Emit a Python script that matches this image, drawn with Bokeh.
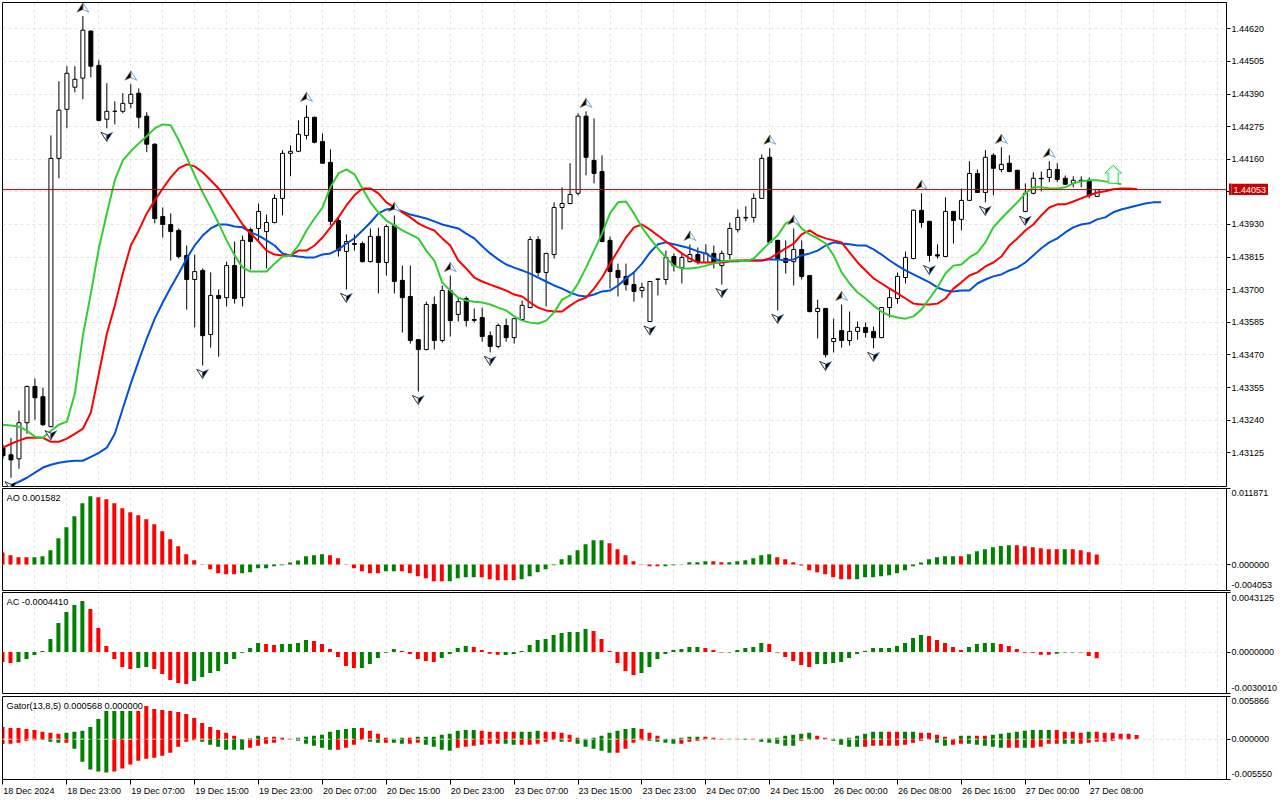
import numpy as np
from bokeh.plotting import figure
from bokeh.layouts import column
from bokeh.models import FixedTicker, Label, LinearAxis, Range1d, Span, CustomJSTickFormatter, NumeralTickFormatter
from bokeh.embed import file_html
from bokeh.resources import INLINE

opens = [1.43143,1.43118,1.43104,1.43231,1.43359,1.43323,1.43217,1.44163,1.44336,1.44414,
1.44446,1.44612,1.44491,1.44301,1.44329,1.44329,1.44357,1.44393,1.44312,1.44213,
1.43958,1.43930,1.43909,1.43821,1.43736,1.43768,1.43542,1.43680,1.43672,1.43785,
1.43672,1.43912,1.43916,1.43905,1.43937,1.44022,1.44181,1.44188,1.44244,1.44308,
1.44223,1.44149,1.43944,1.43835,1.43863,1.43863,1.43799,1.43888,1.43796,1.43927,
1.43733,1.43676,1.43524,1.43489,1.43648,1.43521,1.43697,1.43613,1.43669,1.43595,
1.43602,1.43538,1.43500,1.43574,1.43531,1.43595,1.43637,1.43877,1.43761,1.43824,
1.43990,1.44004,1.44040,1.44312,1.44156,1.44117,1.43874,1.43768,1.43747,1.43718,
1.43697,1.43588,1.43736,1.43736,1.43817,1.43778,1.43799,1.43824,1.43796,1.43828,
1.43785,1.43824,1.43912,1.43955,1.43955,1.44022,1.44167,1.43874,1.43810,1.43799,
1.43842,1.43750,1.43623,1.43634,1.43517,1.43556,1.43521,1.43553,1.43567,1.43553,
1.43531,1.43637,1.43669,1.43743,1.43810,1.43980,1.43941,1.43823,1.43817,1.43976,
1.43948,1.44015,1.44110,1.44043,1.44174,1.44124,1.44146,1.44121,1.43976,1.44040,
1.44093,1.44096,1.44124,1.44093,1.44075,1.44086,1.44086,1.44029]
closes = [1.43115,1.43100,1.43231,1.43359,1.43319,1.43224,1.44163,1.44333,1.44463,1.44442,
1.44615,1.44488,1.44297,1.44329,1.44329,1.44357,1.44389,1.44308,1.44213,1.43951,
1.43930,1.43905,1.43817,1.43736,1.43764,1.43538,1.43680,1.43669,1.43785,1.43669,
1.43874,1.43870,1.43976,1.43937,1.44022,1.44181,1.44188,1.44248,1.44308,1.44220,
1.44146,1.43941,1.43838,1.43870,1.43860,1.43799,1.43888,1.43796,1.43923,1.43729,
1.43672,1.43521,1.43489,1.43648,1.43521,1.43697,1.43591,1.43658,1.43591,1.43592,
1.43535,1.43500,1.43574,1.43531,1.43598,1.43645,1.43877,1.43761,1.43828,1.43990,
1.44004,1.44036,1.44312,1.44167,1.44110,1.43870,1.43764,1.43743,1.43718,1.43694,
1.43708,1.43729,1.43738,1.43814,1.43785,1.43814,1.43824,1.43799,1.43828,1.43796,
1.43828,1.43916,1.43955,1.43953,1.44022,1.44163,1.43867,1.43810,1.43796,1.43842,
1.43747,1.43623,1.43634,1.43471,1.43528,1.43521,1.43553,1.43567,1.43549,1.43531,
1.43637,1.43672,1.43747,1.43814,1.43980,1.43937,1.43821,1.43819,1.43976,1.43944,
1.44015,1.44110,1.44043,1.44167,1.44128,1.44142,1.44117,1.44054,1.44040,1.44093,
1.44091,1.44124,1.44089,1.44072,1.44086,1.44082,1.44033,1.44053]
highs = [1.43154,1.43178,1.43274,1.43362,1.43387,1.43355,1.44244,1.44435,1.44488,1.44488,
1.44665,1.44615,1.44509,1.44428,1.44364,1.44393,1.44425,1.44410,1.44326,1.44216,
1.43990,1.43969,1.43916,1.43856,1.43824,1.43775,1.43761,1.43701,1.43799,1.43870,
1.43891,1.43919,1.44004,1.43965,1.44036,1.44192,1.44209,1.44297,1.44350,1.44310,
1.44251,1.44195,1.43955,1.43895,1.43895,1.43870,1.43916,1.43919,1.43930,1.43962,
1.43785,1.43785,1.43526,1.43658,1.43676,1.43715,1.43750,1.43672,1.43676,1.43634,
1.43637,1.43553,1.43581,1.43598,1.43600,1.43662,1.43888,1.43888,1.43830,1.44008,
1.44061,1.44146,1.44322,1.44329,1.44304,1.44174,1.43888,1.43792,1.43792,1.43761,
1.43725,1.43731,1.43740,1.43838,1.43828,1.43828,1.43860,1.43849,1.43860,1.43856,
1.43838,1.43937,1.43983,1.43994,1.44040,1.44177,1.44199,1.43876,1.43874,1.43916,
1.43874,1.43752,1.43665,1.43636,1.43598,1.43648,1.43623,1.43588,1.43584,1.43570,
1.43639,1.43704,1.43761,1.43835,1.43983,1.44040,1.43943,1.43860,1.44026,1.43978,
1.44057,1.44153,1.44124,1.44192,1.44181,1.44202,1.44174,1.44123,1.44075,1.44114,
1.44117,1.44153,1.44146,1.44103,1.44100,1.44100,1.44096,1.44054]
lows = [1.43104,1.43037,1.43069,1.43192,1.43242,1.43220,1.43217,1.44093,1.44269,1.44396,
1.44371,1.44449,1.44294,1.44269,1.44283,1.44322,1.44340,1.44269,1.44185,1.43934,
1.43884,1.43803,1.43810,1.43630,1.43567,1.43433,1.43496,1.43464,1.43641,1.43651,
1.43641,1.43771,1.43870,1.43775,1.43934,1.43962,1.44100,1.44185,1.44230,1.44216,
1.44146,1.43927,1.43817,1.43701,1.43838,1.43796,1.43796,1.43687,1.43750,1.43687,
1.43549,1.43510,1.43341,1.43486,1.43489,1.43514,1.43535,1.43588,1.43570,1.43584,
1.43517,1.43479,1.43493,1.43517,1.43510,1.43593,1.43635,1.43747,1.43641,1.43810,
1.43912,1.44001,1.44033,1.44103,1.44075,1.43867,1.43704,1.43676,1.43697,1.43658,
1.43672,1.43586,1.43680,1.43718,1.43764,1.43722,1.43796,1.43789,1.43794,1.43775,
1.43718,1.43807,1.43902,1.43941,1.43937,1.44020,1.43865,1.43627,1.43757,1.43715,
1.43736,1.43620,1.43528,1.43461,1.43479,1.43496,1.43503,1.43524,1.43531,1.43493,
1.43529,1.43602,1.43651,1.43722,1.43807,1.43919,1.43799,1.43810,1.43815,1.43863,
1.43909,1.44013,1.44041,1.44008,1.44033,1.44114,1.44114,1.44052,1.43973,1.44036,
1.44047,1.44079,1.44079,1.44070,1.44061,1.44061,1.44022,1.44028]

jaw = [1.43009,1.43023,1.43037,1.43055,1.43073,1.43083,1.43090,1.43094,1.43097,1.43097,
1.43111,1.43125,1.43143,1.43192,1.43281,1.43369,1.43450,1.43528,1.43598,1.43655,
1.43708,1.43757,1.43810,1.43856,1.43891,1.43916,1.43930,1.43930,1.43923,1.43920,
1.43902,1.43891,1.43874,1.43856,1.43828,1.43821,1.43817,1.43814,1.43814,1.43824,
1.43828,1.43842,1.43863,1.43881,1.43909,1.43937,1.43969,1.43983,1.43987,1.43976,
1.43965,1.43958,1.43951,1.43941,1.43930,1.43923,1.43916,1.43898,1.43881,1.43853,
1.43828,1.43807,1.43789,1.43778,1.43768,1.43757,1.43743,1.43729,1.43715,1.43704,
1.43690,1.43680,1.43676,1.43683,1.43694,1.43697,1.43715,1.43740,1.43761,1.43792,
1.43831,1.43860,1.43867,1.43860,1.43853,1.43846,1.43835,1.43828,1.43810,1.43800,
1.43800,1.43800,1.43803,1.43803,1.43803,1.43807,1.43807,1.43803,1.43807,1.43821,
1.43828,1.43838,1.43856,1.43867,1.43863,1.43860,1.43856,1.43856,1.43842,1.43824,
1.43803,1.43785,1.43768,1.43754,1.43740,1.43726,1.43708,1.43697,1.43694,1.43697,
1.43697,1.43722,1.43736,1.43747,1.43754,1.43768,1.43778,1.43796,1.43821,1.43846,
1.43867,1.43881,1.43902,1.43920,1.43930,1.43934,1.43948,1.43955,1.43973,1.43983,
1.43990,1.43997,1.44004,1.44008,1.44008]
teeth = [1.43143,1.43157,1.43168,1.43178,1.43178,1.43178,1.43164,1.43164,1.43175,1.43192,
1.43210,1.43267,1.43404,1.43545,1.43644,1.43757,1.43856,1.43909,1.43969,1.44015,
1.44057,1.44096,1.44128,1.44142,1.44135,1.44114,1.44086,1.44057,1.44015,1.43973,
1.43930,1.43898,1.43870,1.43838,1.43824,1.43821,1.43821,1.43838,1.43838,1.43856,
1.43884,1.43920,1.43955,1.43997,1.44033,1.44057,1.44057,1.44040,1.44008,1.43990,
1.43973,1.43955,1.43934,1.43920,1.43909,1.43881,1.43856,1.43803,1.43775,1.43743,
1.43729,1.43718,1.43708,1.43697,1.43683,1.43676,1.43655,1.43637,1.43627,1.43623,
1.43623,1.43644,1.43662,1.43672,1.43704,1.43743,1.43792,1.43838,1.43884,1.43920,
1.43930,1.43912,1.43891,1.43870,1.43849,1.43828,1.43810,1.43796,1.43796,1.43796,
1.43796,1.43800,1.43803,1.43803,1.43803,1.43803,1.43810,1.43828,1.43846,1.43863,
1.43895,1.43909,1.43891,1.43881,1.43874,1.43867,1.43831,1.43796,1.43768,1.43740,
1.43722,1.43704,1.43687,1.43669,1.43651,1.43648,1.43648,1.43651,1.43669,1.43704,
1.43726,1.43750,1.43761,1.43782,1.43796,1.43817,1.43856,1.43881,1.43909,1.43930,
1.43962,1.43990,1.44001,1.44001,1.44011,1.44022,1.44033,1.44043,1.44047,1.44054,
1.44057,1.44057,1.44054]
lips = [1.43224,1.43221,1.43217,1.43203,1.43182,1.43178,1.43203,1.43224,1.43235,1.43334,
1.43538,1.43687,1.43846,1.43969,1.44086,1.44156,1.44188,1.44216,1.44241,1.44269,
1.44283,1.44280,1.44227,1.44167,1.44103,1.44043,1.43990,1.43934,1.43874,1.43821,
1.43778,1.43764,1.43764,1.43764,1.43792,1.43817,1.43821,1.43856,1.43909,1.43951,
1.43990,1.44061,1.44110,1.44124,1.44107,1.44057,1.44008,1.43973,1.43944,1.43927,
1.43909,1.43895,1.43881,1.43838,1.43803,1.43725,1.43697,1.43672,1.43662,1.43658,
1.43655,1.43648,1.43637,1.43627,1.43606,1.43591,1.43584,1.43581,1.43591,1.43620,
1.43665,1.43680,1.43722,1.43778,1.43838,1.43898,1.43969,1.44008,1.44011,1.43969,
1.43920,1.43881,1.43846,1.43814,1.43785,1.43775,1.43775,1.43778,1.43785,1.43792,
1.43800,1.43803,1.43803,1.43800,1.43810,1.43838,1.43867,1.43891,1.43934,1.43948,
1.43916,1.43895,1.43881,1.43863,1.43821,1.43761,1.43722,1.43690,1.43669,1.43644,
1.43623,1.43609,1.43602,1.43598,1.43606,1.43630,1.43669,1.43708,1.43757,1.43785,
1.43789,1.43814,1.43831,1.43867,1.43920,1.43951,1.43980,1.44008,1.44040,1.44061,
1.44061,1.44057,1.44057,1.44061,1.44075,1.44082,1.44086,1.44086,1.44082,1.44079,
1.44072]

ao = [.001872,.001456,.001144,.001144,.001144,.0013,.002236,.004108,.005824,.00754,.009568,.01066,
.010504,.010192,.009568,.008788,.008164,.007696,.007072,.006292,.0052,.003952,.00286,.001612,.000676,.000052,
-.000728,-.001352,-.001508,-.001508,-.001352,-.001196,-.000572,-.000572,-.00026,-.000104,.000312,.000624,.0013,
.001456,.001612,.001456,.000988,-.000052,-.000572,-.00104,-.001352,-.001352,-.00104,-.00104,-.00104,-.001352,-.00182,-.002132,
-.0026,-.0026,-.0026,-.002132,-.001976,-.001976,-.001976,-.002288,-.002444,-.002444,-.002444,-.002288,-.00182,-.001196,-.000728,-.000104,
.000832,.001456,.002236,.003172,.003796,.003796,.003328,.002392,.001456,.00052,.000052,-.00026,-.00026,-.00026,-.000104,.000052,
.000364,.000364,.00052,.00052,.000364,.000364,.00052,.000676,.000988,.001456,.001612,.001144,.000832,.000364,-.000156,-.000884,
-.001196,-.001508,-.001976,-.002288,-.002288,-.002288,-.001976,-.001976,-.00182,-.001664,-.001352,-.000884,-.00026,.000312,.000832,.001144,
.0013,.0013,.0013,.001612,.00208,.002392,.002704,.002912,.003016,.003016,.00286,.002704,.002548,.002392,.002392,.002392,.002392,.002236,.001924,.001582]
ao_dir = "d"*4+"u"*8+"d"*18+"u"*11+"d"*7+"u"*2+"d"*6+"u"*4+"d"*5+"u"*11+"d"*7+"u"*6+"d"*2+"u"*6+"d"*10+"u"*13+"d"+"u"*6+"d"*6+"u"+"d"*4

ac = [-.000724,-.000797,-.000724,-.000507,-.000217,.000072,.000941,.0021,.002897,.003404,.003693,.003114,.001738,.000435,-.000507,-.001086,-.001231,-.001159,-.001086,-.001231,
-.001593,-.002028,-.002245,-.002317,-.0021,-.001811,-.001521,-.001376,-.000869,-.000507,-.000048,.00029,.000652,.000579,.000507,.000579,.000579,.000652,.000869,.000797,
.000579,.000217,-.000362,-.001014,-.001159,-.001159,-.000869,-.000435,-.000048,.000217,.000072,-.000145,-.000507,-.000652,
-.000724,-.000435,-.000145,.00029,.000435,.000362,.000145,-.000121,-.000193,-.000217,-.000145,.000072,.000507,.000869,.000941,.001231,.001376,.001448,.001448,.001666,.001521,.000941,.000072,
-.000797,-.001376,-.001666,-.001521,-.001086,-.000507,-.000145,.000145,.000217,.000362,.000362,.00029,.000145,-.000024,-.000024,.000145,.00029,.000362,.000652,.000579,-.000024,-.000362,-.000652,
-.000941,-.001086,-.000869,-.000869,-.000797,-.000724,-.000435,-.000145,
.000072,.00029,.00029,.00029,.000435,.000652,.001014,.001231,.001159,.000869,.000652,.000362,.000145,.000362,.000579,.000652,.000652,.000579,.000435,.000217,
-.000048,-.000048,-.000193,-.000193,-.000121,-.000024,-.000024,-.000024,-.00029,-.000441]
ac_dir = "d"*2+"u"*9+"d"*6+"u"*2+"d"*5+"u"*9+"d"*2+"u"*4+"d"*6+"u"*5+"d"*5+"u"*4+"d"*4+"u"*11+"d"*6+"u"*8+"d"*3+"u"*5+"d"*6+"u"*14+"d"*5+"u"*4+"d"*7+"u"*3+"d"*3

gator_up = [.001684,.001547,.001547,.001411,.001274,.001001,.000865,.000728,.000865,.001001,.001138,.001684,.002776,.003868,.003868,.003868,.003868,.003868,.00455,.004141,
.004004,.003868,.003731,.003458,.002912,.00223,.001684,.001274,.000865,.000455,.000023,.000137,.000455,.000273,.000319,.000182,.000046,.000182,.000319,.000455,
.000592,.001001,.001274,.001411,.001547,.001547,.001138,.000728,.000182,.000046,.000182,.000182,.000319,.000319,
.000319,.000592,.000728,.001138,.001274,.001274,.001138,.001001,.001001,.001001,.001001,.001001,.001001,.001138,.001001,.001001,.000865,.000592,.000182,.000046,.000182,.000455,.000865,.001138,.001411,.001547,
.001411,.000865,.000455,.000046,.000046,.000182,.000319,.000319,.000319,.000182,.000046,.000046,.000046,.000046,.000046,.000046,.000091,.000182,.000455,.000592,.000728,.000865,.000455,.000182,.000046,.000046,
.000182,.000455,.000728,.001001,.001001,.001001,.001001,.001001,.001001,.000865,.000865,.000592,.000319,.000046,.000455,.000455,.000455,.000455,.000592,.000728,.000865,.001001,.001138,.001274,.001274,.001274,.001274,
.001001,.001001,.000865,.001001,.001001,.000865,.000865,.000728,.000728,.000568]
gator_up_dir = "d"*8+"u"*9+"d"*13+"u"*3+"d"*4+"u"*8+"d"*4+"u"*2+"d"+"u"*8+"d"*5+"u"*3+"d"*5+"u"*7+"d"*3+"u"*5+"d"*3+"u"+"d"+"u"+"d"+"u"*7+"d"*2+"u"*7+"d"*2+"u"*2+"d"*5+"u"*2+"d"*2+"u"*8+"d"*4+"u"+"d"*6
gator_down = [-.000683,-.000637,-.000501,-.000228,-.000137,-.000091,-.000364,-.000501,-.000501,-.00132,-.003094,-.004186,-.004459,-.004596,-.004459,-.00405,-.003504,-.002958,-.002685,-.002548,
-.002275,-.001866,-.001047,-.000364,-.000137,-.000364,-.000774,-.001047,-.001456,-.001456,-.001456,-.001183,-.00091,-.000637,-.000501,-.000091,-.000046,-.000228,-.000637,-.00091,
-.001183,-.001456,-.001456,-.001183,-.000774,-.000091,-.000364,-.000501,-.000501,-.000501,-.000637,-.000637,-.000501,-.000774,
-.001047,-.001456,-.001593,-.001183,-.001047,-.00091,-.000774,-.000637,-.000637,-.000637,-.000774,-.000774,-.000774,-.000637,-.000364,-.000091,-.000364,-.000364,-.000637,-.001047,-.00132,-.001593,-.001866,-.001866,-.00132,-.000501,
-.000137,-.000228,-.000364,-.000501,-.000637,-.000637,-.000364,-.000228,-.000091,-.000046,-.000046,-.000046,-.000046,-.000091,-.000091,-.000364,-.000501,-.000637,-.00091,-.00091,-.000228,-.000091,-.000046,-.000046,
-.000228,-.000774,-.001047,-.001047,-.001047,-.00091,-.00091,-.00091,-.00091,-.000774,-.000501,-.000228,-.000091,-.000501,-.00091,-.000774,-.000637,-.000637,-.000774,-.00091,-.001047,-.001183,-.001183,-.001183,-.001183,-.001183,-.001047,
-.000637,-.000637,-.000637,-.000637,-.000637,-.000501,-.000364,-.000364,-.000228,-.000091]
gator_down_dir = "d"*5+"u"*3+"d"+"u"*5+"d"*11+"u"*6+"d"*6+"u"*5+"d"*4+"u"*2+"d"+"u"*2+"d"*2+"u"*4+"d"*6+"u"*2+"d"*5+"u"+"d"+"u"*5+"d"*4+"u"*4+"d"*6+"u"+"d"+"u"+"d"+"u"*5+"d"*4+"u"*4+"d"*9+"u"*2+"d"*2+"u"*5+"d"*2+"u"+"d"*4+"u"*2+"d"*6

up_fractals = [10,16,38,49,56,73,86,96,99,105,115,125,131]
down_fractals = [1,6,13,25,43,52,61,81,90,97,103,109,116,123,128]
price_ticks = [1.44620,1.44505,1.44390,1.44275,1.44160,1.44045,1.43930,1.43815,1.43700,1.43585,1.43470,1.43355,1.43240,1.43125]
last_price = 1.44053
arrow_bar, arrow_price = 139, 1.44107
date_bars = [0,8,16,24,32,40,48,56,64,72,80,88,96,104,112,120,128,136]
date_labels = ["18 Dec 2024","18 Dec 23:00","19 Dec 07:00","19 Dec 15:00","19 Dec 23:00","20 Dec 07:00","20 Dec 15:00","20 Dec 23:00","23 Dec 07:00","23 Dec 15:00","23 Dec 23:00","24 Dec 07:00","24 Dec 15:00","26 Dec 00:00","26 Dec 08:00","26 Dec 16:00","27 Dec 00:00","27 Dec 08:00"]

FONT = "Liberation Sans"
FS = "9px"
FS_TITLE = "9.2px"
GRID = "#e3e3e3"
X0, X1 = -0.0625, 153.1875
PX_X = 1/8
BLANK = CustomJSTickFormatter(code="return ''")

def make_fig(h, y0, y1, top, bottom, axis=None):
    p = figure(width=1280, height=h, output_backend="svg", toolbar_location=None,
               x_range=Range1d(X0, X1), y_range=Range1d(y0, y1),
               x_axis_location=axis, y_axis_location="right",
               min_border_left=2, min_border_right=52, min_border_top=top, min_border_bottom=bottom)
    p.background_fill_color = "white"
    p.border_fill_color = "white"
    p.outline_line_color = "black"
    p.outline_line_width = 1
    p.xgrid.ticker = FixedTicker(ticks=list(range(4, 156, 4)))
    for g in (p.xgrid, p.ygrid):
        g.grid_line_color = GRID
        g.grid_line_dash = "3 3"
        g.grid_line_width = 1
    ax = p.yaxis[0]
    ax.axis_line_color = None
    ax.major_tick_in = 0
    ax.major_tick_out = 4
    ax.minor_tick_line_color = None
    ax.major_tick_line_color = "black"
    ax.major_label_standoff = 1
    ax.major_label_text_font = FONT
    ax.major_label_text_font_size = FS
    ax.major_label_text_color = "black"
    return p

def text_axis(ticks, overrides, color="black", standoff=1):
    return LinearAxis(ticker=FixedTicker(ticks=ticks), major_label_overrides=overrides,
                      axis_line_color=None, major_tick_line_color=None, minor_tick_line_color=None,
                      major_tick_in=0, major_tick_out=0, minor_tick_in=0, minor_tick_out=0,
                      major_label_standoff=standoff, major_label_text_font=FONT, major_label_text_font_size=FS,
                      major_label_text_color=color)

# ---------- main price panel
y_top, y_bot = 1.447127, 1.430062
PX_Y = (y_top - y_bot) / 484
main = make_fig(487, y_bot, y_top, 2, 1)
main.ygrid.ticker = FixedTicker(ticks=price_ticks)
pa = main.yaxis[0]
pa.ticker = FixedTicker(ticks=price_ticks)
pa.formatter = NumeralTickFormatter(format="0.00000")
pa.major_label_overrides = {1.44045: ""}

bars = np.arange(len(opens))
op, cl, hi, lo = map(np.array, (opens, closes, highs, lows))
main.segment(bars, hi, bars, lo, line_color="black", line_width=1)
main.vbar(x=bars, top=np.maximum(op, cl), bottom=np.minimum(op, cl), width=0.5,
          fill_color=["black" if c < o else "white" for o, c in zip(op, cl)], line_color="black", line_width=1)

main.add_layout(Span(location=last_price, dimension="width", line_color="#b80000", line_width=1, level="glyph"))

main.line(np.arange(1, 1 + len(jaw)), jaw, line_color="#0050dc", line_width=2, line_join="round")
main.line(np.arange(len(teeth)), teeth, line_color="#ff0000", line_width=2, line_join="round")
main.line(np.arange(len(lips)), lips, line_color="#32cd32", line_width=2, line_join="round")

# fractal arrows (shape in pixels around a point 8.5 px beyond the high / low)
hw, hh, notch = 6, 4.6, 2.0
uxl, uyl, uxr, uyr = [], [], [], []
for i in up_fractals:
    c = highs[i] + 8.5 * PX_Y
    uxl.append([i, i - hw * PX_X, i]); uyl.append([c + hh * PX_Y, c - hh * PX_Y, c - notch * PX_Y])
    uxr.append([i, i + hw * PX_X, i]); uyr.append([c + hh * PX_Y, c - hh * PX_Y, c - notch * PX_Y])
main.patches(uxr, uyr, fill_color="white", line_color="#6fa8dc", line_width=1)
main.patches(uxl, uyl, fill_color="black", line_color="#8a6a3a", line_width=0.6)
dxl, dyl, dxr, dyr = [], [], [], []
for i in down_fractals:
    c = lows[i] - 8.5 * PX_Y
    dxl.append([i, i - hw * PX_X, i]); dyl.append([c - hh * PX_Y, c + hh * PX_Y, c + notch * PX_Y])
    dxr.append([i, i + hw * PX_X, i]); dyr.append([c - hh * PX_Y, c + hh * PX_Y, c + notch * PX_Y])
main.patches(dxl, dyl, fill_color="white", line_color="#333333", line_width=1)
main.patches(dxr, dyr, fill_color="black", line_color="#5f8fc0", line_width=0.6)

# buy arrow
def arrow(inset):
    xs = [0, -8.3 + 1.6 * inset, -5 + inset, -5 + inset, 5 - inset, 5 - inset, 8.3 - 1.6 * inset]
    ys = [9 - 1.6 * inset, 1.3 + inset * 0.4, 1.3 + inset * 0.4, -9 + inset, -9 + inset, 1.3 + inset * 0.4, 1.3 + inset * 0.4]
    return [arrow_bar + v * PX_X for v in xs], [arrow_price + v * PX_Y for v in ys]
ax_, ay_ = arrow(0)
main.patch(ax_, ay_, fill_color="white", line_color="#32cd32", line_width=1)
ax_, ay_ = arrow(1)
main.patch(ax_, ay_, fill_color="white", line_color="#a8efe6", line_width=1)

# current-price tag: a small figure of its own laid over the price scale, level with last_price;
# its text is an axis label, which is not clipped to the tiny frame
tag_h = 12
tag = figure(width=39, height=tag_h, output_backend="svg", toolbar_location=None,
             x_range=Range1d(0, 1), y_range=Range1d(0, 1), x_axis_location=None, y_axis_location="right",
             min_border_left=0, min_border_right=37, min_border_top=0, min_border_bottom=0)
tag.grid.visible = False
tag.outline_line_color = None
tag.background_fill_color = "#c80000"
tag.border_fill_color = "#c80000"
ta = tag.yaxis[0]
ta.ticker = FixedTicker(ticks=[0.5])
ta.major_label_overrides = {0.5: "1.44053"}
ta.axis_line_color = None
ta.major_tick_line_color = None
ta.minor_tick_line_color = None
ta.major_tick_in = 0
ta.major_tick_out = 0
ta.major_label_standoff = 2
ta.major_label_text_color = "white"
ta.major_label_text_font = FONT
ta.major_label_text_font_size = FS
tag_top = 2 + (y_top - last_price) / PX_Y - tag_h / 2
tag.styles = {"position": "absolute", "left": "1229px", "top": f"{tag_top:.1f}px"}

# ---------- indicator panels
UP, DOWN = "#008000", "#ff0000"
def colors(d):
    return [UP if c == "u" else DOWN for c in d]

def indicator(h, y0, y1, top, bottom, title, labels, axis=None):
    p = make_fig(h, y0, y1, top, bottom, axis)
    px = (y1 - y0) / (h - top - bottom)
    p.ygrid.ticker = FixedTicker(ticks=[0])
    p.yaxis[0].ticker = FixedTicker(ticks=[y1, 0, y0])
    p.yaxis[0].formatter = BLANK
    p.yaxis[0].major_label_standoff = 0
    p.add_layout(Label(x=X0, y=y1, x_offset=4, y_offset=-9, text=title, text_font=FONT, text_font_size=FS_TITLE,
                       text_color="black", text_baseline="middle"))
    ticks, over = [], {}
    for val, txt, off in labels:
        t = val + off * px
        ticks.append(t)
        over[t] = txt
    p.add_layout(text_axis(ticks, over), "right")
    return p

BAR_W = 0.5
ao_fig = indicator(104, -0.004053, 0.011871, 1, 1, "AO 0.001582",
                   [(0.011871, "0.011871", -4.5), (0, "0.000000", 0), (-0.004053, "-0.004053", 5.7)])
ao_fig.vbar(x=np.arange(len(ao)) - 0.0625, top=ao, bottom=0, width=BAR_W, fill_color=colors(ao_dir), line_color=None)

ac_fig = indicator(104, -0.0030010, 0.0043125, 1, 2, "AC -0.0004410",
                   [(0.0043125, "0.0043125", -5.6), (0, "0.0000000", 0), (-0.0030010, "-0.0030010", 5.6)])
ac_fig.vbar(x=np.arange(len(ac)) - 0.0625, top=ac, bottom=0, width=BAR_W, fill_color=colors(ac_dir), line_color=None)

gat = indicator(105, -0.005550, 0.005866, 1, 21, "Gator(13,8,5) 0.000568 0.000000",
                [(0.005866, "0.005866", -4.7), (0, "0.000000", 0), (-0.005550, "-0.005550", 6)], axis="below")
gat.vbar(x=np.arange(len(gator_up)) - 0.0625, top=gator_up, bottom=0, width=BAR_W,
         fill_color=colors(gator_up_dir), line_color=None)
gat.vbar(x=np.arange(len(gator_down)) - 0.0625, top=0, bottom=gator_down, width=BAR_W,
         fill_color=colors(gator_down_dir), line_color=None)
gat.add_layout(Span(location=0, dimension="width", line_color="#ececec", line_dash="3 3", line_width=1, level="overlay"))
xa = gat.xaxis[0]
xa.ticker = FixedTicker(ticks=date_bars)
xa.formatter = BLANK
xa.axis_line_color = None
xa.major_tick_in = 0
xa.major_tick_out = 5
xa.major_tick_line_color = "black"
xa.minor_tick_line_color = None
xa.major_label_standoff = 0
# date captions start at their tick, so each one is centred half its width to the right of it
date_ticks = [b + (3.24 if i == 0 else 3.41) for i, b in enumerate(date_bars)]
gat.add_layout(text_axis(date_ticks, dict(zip(date_ticks, date_labels)), standoff=1), "below")

page = column(main, ao_fig, ac_fig, gat, tag, spacing=0)
page.styles = {"position": "absolute", "left": "0px", "top": "0px"}

open("out.html", "w").write(file_html(page, INLINE))
